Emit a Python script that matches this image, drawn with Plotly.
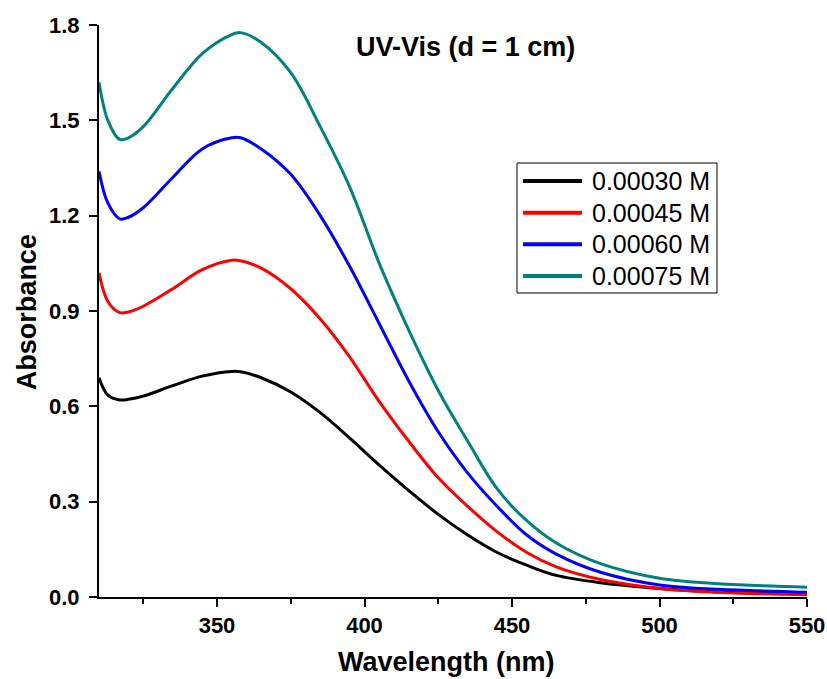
import plotly.graph_objects as go

wavelength = [310, 313, 317, 320, 325, 335, 345, 355, 358, 365, 375, 385, 395, 405,
              415, 425, 435, 445, 455, 465, 480, 500, 520, 550]

abs_030 = [0.69, 0.635, 0.62, 0.622, 0.632, 0.665, 0.695, 0.71, 0.709, 0.69, 0.645, 0.58,
           0.50, 0.415, 0.335, 0.26, 0.195, 0.14, 0.10, 0.068, 0.045, 0.027, 0.016, 0.008]
abs_045 = [1.02, 0.93, 0.895, 0.897, 0.915, 0.97, 1.03, 1.06, 1.058, 1.035, 0.97, 0.875,
           0.755, 0.615, 0.49, 0.375, 0.285, 0.205, 0.14, 0.095, 0.055, 0.027, 0.015, 0.007]
abs_060 = [1.34, 1.24, 1.19, 1.195, 1.225, 1.32, 1.41, 1.445, 1.445, 1.41, 1.33, 1.20,
           1.04, 0.86, 0.68, 0.52, 0.39, 0.285, 0.195, 0.135, 0.078, 0.038, 0.024, 0.015]
abs_075 = [1.62, 1.50, 1.44, 1.445, 1.48, 1.60, 1.71, 1.77, 1.776, 1.745, 1.65, 1.48,
           1.29, 1.05, 0.84, 0.65, 0.49, 0.34, 0.24, 0.17, 0.105, 0.059, 0.042, 0.031]

series_names = ["0.00030 M", "0.00045 M", "0.00060 M", "0.00075 M"]
series_values = [abs_030, abs_045, abs_060, abs_075]
series_colors = ["#000000", "#FF0000", "#0000FF", "#008080"]

x_ticks = [350, 400, 450, 500, 550]
x_minor = [325, 375, 425, 475, 525]
y_ticks = [0.0, 0.3, 0.6, 0.9, 1.2, 1.5, 1.8]

FONT = "Liberation Sans, Arial, sans-serif"

fig = go.Figure()
for name, vals, col in zip(series_names, series_values, series_colors):
    fig.add_trace(go.Scatter(
        x=wavelength, y=vals, name=name, mode="lines",
        line=dict(color=col, width=3, shape="spline", smoothing=1.0),
        showlegend=False,
    ))

# Legend drawn as a boxed key (paper coordinates)
leg_x0, leg_x1, leg_y0, leg_y1 = 0.5904, 0.8729, 0.5315, 0.7587
row_y = [0.7273, 0.6719, 0.6165, 0.5611]
shapes = [dict(type="rect", xref="paper", yref="paper", x0=leg_x0, x1=leg_x1,
               y0=leg_y0, y1=leg_y1, line=dict(color="black", width=1),
               fillcolor="white", layer="above")]
annotations = []
for name, col, ry in zip(series_names, series_colors, row_y):
    shapes.append(dict(type="line", xref="paper", yref="paper", x0=0.5989, x1=0.6822,
                       y0=ry, y1=ry, line=dict(color=col, width=4), layer="above"))
    annotations.append(dict(x=0.6935, y=ry, xref="paper", yref="paper", text=name,
                            showarrow=False, xanchor="left", yanchor="middle",
                            font=dict(family=FONT, size=25, color="black")))

annotations.append(dict(
    x=0.518, y=0.9615, xref="paper", yref="paper",
    text="UV-Vis (d = 1 cm)", showarrow=False,
    font=dict(family=FONT, size=27, color="black", weight="bold"),
    xanchor="center", yanchor="middle",
))
annotations.append(dict(
    x=0.4915, y=-0.114, xref="paper", yref="paper",
    text="Wavelength (nm)", showarrow=False,
    font=dict(family=FONT, size=27, color="black", weight="bold"),
    xanchor="center", yanchor="middle",
))
annotations.append(dict(
    x=-0.1017, y=0.498, xref="paper", yref="paper",
    text="Absorbance", showarrow=False, textangle=-90,
    font=dict(family=FONT, size=27, color="black", weight="bold"),
    xanchor="center", yanchor="middle",
))

fig.update_layout(
    width=827, height=679,
    margin=dict(l=99, r=20, t=25, b=82, autoexpand=False),
    paper_bgcolor="white", plot_bgcolor="white",
    font=dict(family=FONT, color="black"),
    showlegend=False,
    shapes=shapes,
    annotations=annotations,
)

fig.update_xaxes(
    range=[310, 550], tickvals=x_ticks, ticktext=[str(v) for v in x_ticks],
    showline=True, linecolor="black", linewidth=2, mirror=False,
    ticks="outside", ticklen=8, tickwidth=2, tickcolor="black",
    tickfont=dict(family=FONT, size=22, color="black", weight="bold"),
    showgrid=False, zeroline=False,
    minor=dict(tickvals=x_minor, ticks="outside", ticklen=5,
               tickwidth=2, tickcolor="black", showgrid=False),
)
fig.update_yaxes(
    range=[0, 1.8], tickvals=y_ticks, ticktext=[f"{v:.1f}" for v in y_ticks],
    showline=True, linecolor="black", linewidth=2, mirror=False,
    ticks="outside", ticklen=8, tickwidth=2, tickcolor="black",
    tickfont=dict(family=FONT, size=22, color="black", weight="bold"),
    ticklabelstandoff=5,
    showgrid=False, zeroline=False,
)

fig.write_html("out.html")
